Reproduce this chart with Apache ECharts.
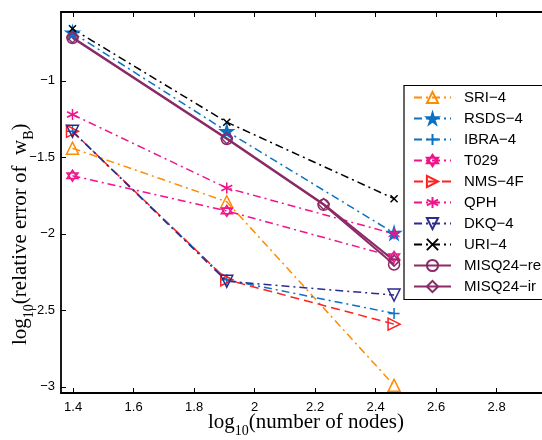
<!DOCTYPE html>
<html>
<head>
<meta charset="utf-8">
<script src="https://cdn.jsdelivr.net/npm/echarts@6/dist/echarts.min.js"></script>
<style>
  html, body { margin: 0; padding: 0; background: #fff; }
  #main { width: 542px; height: 440px; }
</style>
</head>
<body>
<div id="main"></div>
<script>
  // log10 of node counts (25, 81, 169, 289)
  var xThree = [1.398, 1.908, 2.461];
  var xFour = [1.398, 1.908, 2.228, 2.461];

  var sri4 = [-1.44, -1.79, -2.99];
  var rsds4 = [-0.685, -1.33, -1.995];
  var ibra4 = [-1.33, -2.30, -2.52];
  var t029 = [-1.62, -1.85, -2.15];
  var nms4f = [-1.33, -2.30, -2.59];
  var qph = [-1.22, -1.70, -2.00];
  var dkq4 = [-1.33, -2.31, -2.40];
  var uri4 = [-0.66, -1.27, -1.77];
  var misqRe = [-0.72, -1.38, -1.81, -2.20];
  var misqIr = [-0.715, -1.375, -1.805, -2.175];

  var xTicks = [1.4, 1.6, 1.8, 2, 2.2, 2.4, 2.6, 2.8];
  var yTicks = [-3, -2.5, -2, -1.5, -1];

  var dashDot = [8, 4, 2, 4];
  var dashed = [9, 5];

  var STAR = 'path://M50,0 L61,35 L98,35 L68,57 L79,91 L50,70 L21,91 L32,57 L2,35 L39,35 Z';
  var PLUS = 'path://M0,50 L100,50 M50,0 L50,100';
  var HEXA = 'path://M50,0 L93,75 L7,75 Z M50,100 L7,25 L93,25 Z';
  var ASTER = 'path://M50,0 L50,100 M7,25 L93,75 M7,75 L93,25';
  var CROSS = 'path://M0,0 L100,100 M0,100 L100,0';
  var TRI_UP = 'path://M50,0 L100,90 L0,90 Z';
  var TRI_DOWN = 'path://M0,0 L100,0 L50,90 Z';
  var TRI_RIGHT = 'path://M0,0 L90,50 L0,100 Z';
  var DIAMOND = 'path://M50,0 L100,50 L50,100 L0,50 Z';

  function pairs(xs, ys) {
    var out = [];
    for (var i = 0; i < ys.length; i++) out.push([xs[i], ys[i]]);
    return out;
  }

  function mkSeries(name, xs, ys, color, dash, symbol, size, filled, width) {
    return {
      name: name,
      type: 'line',
      data: pairs(xs, ys),
      symbol: symbol,
      symbolSize: size,
      showAllSymbol: true,
      lineStyle: { color: color, width: width || 1.5, type: dash },
      itemStyle: {
        color: filled ? color : 'rgba(255,255,255,0)',
        borderColor: color,
        borderWidth: 1.5
      },
      emphasis: { disabled: true }
    };
  }

  var minus = function (v) { return String(v).replace('-', '\u2212'); };

  var myChart = echarts.init(document.getElementById('main'));

  var subTitle = {
    a: { fontFamily: 'Liberation Serif', fontSize: 21, lineHeight: 21, fill: '#000' },
    s: { fontFamily: 'Liberation Serif', fontSize: 14, lineHeight: 31, verticalAlign: 'bottom', fill: '#000' }
  };

  var option = {
    backgroundColor: '#ffffff',
    animation: false,
    grid: { left: 61, top: 12, right: 0, bottom: 47 },
    xAxis: [{
      type: 'value',
      min: 1.36,
      max: 2.95,
      axisLine: { lineStyle: { color: '#000', width: 1.8 } },
      axisTick: { inside: true, length: 5, lineStyle: { color: '#000' }, customValues: xTicks },
      axisLabel: {
        customValues: xTicks, margin: 8, color: '#000',
        fontFamily: 'Liberation Sans', fontSize: 13
      },
      splitLine: { show: false }
    }, {
      type: 'value',
      position: 'top',
      min: 1.36,
      max: 2.95,
      axisLine: { lineStyle: { color: '#000', width: 1.8 } },
      axisTick: { inside: true, length: 5, lineStyle: { color: '#000' }, customValues: xTicks },
      axisLabel: { show: false },
      splitLine: { show: false }
    }],
    yAxis: {
      type: 'value',
      min: -3.04,
      max: -0.55,
      axisLine: { show: true, lineStyle: { color: '#000', width: 1.8 } },
      axisTick: { show: true, inside: true, length: 5, lineStyle: { color: '#000' }, customValues: yTicks },
      axisLabel: {
        customValues: yTicks, margin: 6, color: '#000',
        fontFamily: 'Liberation Sans', fontSize: 13, formatter: minus
      },
      splitLine: { show: false }
    },
    legend: {
      orient: 'vertical',
      left: 404,
      top: 85,
      padding: [5, 0, 5, 9],
      itemWidth: 37,
      itemHeight: 14,
      itemGap: 6,
      textStyle: { fontFamily: 'Liberation Sans', fontSize: 15, color: '#000', lineHeight: 15, padding: [0, 0, 0, 8] },
      data: ['SRI\u22124', 'RSDS\u22124', 'IBRA\u22124', 'T029', 'NMS\u22124F', 'QPH', 'DKQ\u22124', 'URI\u22124', 'MISQ24\u2212re', 'MISQ24\u2212ir']
    },
    graphic: [{
      // legend frame runs off the right edge like the original
      type: 'rect',
      z: 3,
      shape: { x: 404, y: 85.5, width: 200, height: 214 },
      style: { fill: '#fff', stroke: '#000', lineWidth: 1.2 }
    }, {
      type: 'text',
      left: 208,
      top: 412,
      style: { text: '{a|log}{s|10}{a|(number of nodes)}', rich: subTitle }
    }, {
      type: 'text',
      x: 5,
      y: 345,
      rotation: Math.PI / 2,
      style: { text: '{a|log}{s|10}{a|(relative error of  w}{s|B}{a|)}', rich: subTitle }
    }],
    series: [
      mkSeries('SRI\u22124', xThree, sri4, '#FF8C00', dashDot, TRI_UP, 12, false),
      mkSeries('RSDS\u22124', xThree, rsds4, '#0A72C4', dashDot, STAR, 13, true),
      mkSeries('IBRA\u22124', xThree, ibra4, '#0A72C4', dashDot, PLUS, 11, false),
      mkSeries('T029', xThree, t029, '#F0148C', dashDot, HEXA, 11, false),
      mkSeries('NMS\u22124F', xThree, nms4f, '#FF2020', dashed, TRI_RIGHT, 12, false),
      mkSeries('QPH', xThree, qph, '#F0148C', dashDot, ASTER, 11, false),
      mkSeries('DKQ\u22124', xThree, dkq4, '#2B2C8C', dashDot, TRI_DOWN, 12, false),
      mkSeries('URI\u22124', xThree, uri4, '#000000', dashDot, CROSS, 7, false),
      mkSeries('MISQ24\u2212re', xFour, misqRe, '#8B2A66', 'solid', 'circle', 11, false, 2),
      mkSeries('MISQ24\u2212ir', xFour, misqIr, '#8B2A66', 'solid', DIAMOND, 11, false, 2)
    ]
  };

  myChart.setOption(option);
</script>
</body>
</html>
